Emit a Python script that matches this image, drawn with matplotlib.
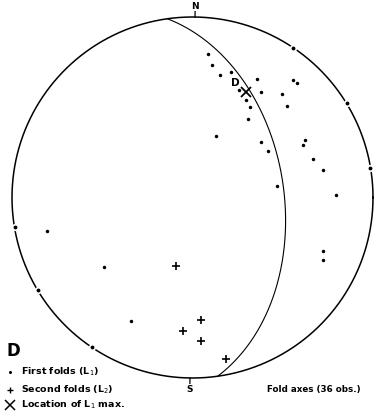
import numpy as np
import matplotlib
matplotlib.use("Agg")
import matplotlib.pyplot as plt

# ---------------- data (net coordinates, primitive radius = 1) ----------------
# First folds (L1) inside the net
l1_x = [0.084, 0.110, 0.152, 0.215, 0.359, 0.381, 0.259, 0.298, 0.317, 0.305,
        0.130, 0.377, 0.417, 0.468, 0.555, 0.577, 0.497, 0.522, 0.623, 0.613,
        0.669, 0.723, 0.793, 0.725, 0.723, -0.804, -0.489, -0.341]
l1_y = [0.795, 0.732, 0.679, 0.695, 0.655, 0.587, 0.594, 0.540, 0.501, 0.437,
        0.339, 0.305, 0.259, 0.064, 0.651, 0.636, 0.572, 0.509, 0.317, 0.289,
        0.215, 0.154, 0.014, -0.295, -0.346, -0.186, -0.387, -0.686]
# First folds that are horizontal (plotted on the primitive)
l1_edge_x = [0.558, 0.857, 0.986, -0.986, -0.857, -0.556]
l1_edge_y = [0.830, 0.522, 0.163, -0.166, -0.515, -0.831]
# Second folds (L2)
l2_x = [-0.093, 0.045, -0.051, 0.047, 0.186]
l2_y = [-0.381, -0.677, -0.738, -0.797, -0.896]
# Location of L1 maximum
max_x = [0.298]
max_y = [0.584]
# Great circle (dip direction, dip) in degrees
gc_dipdir = 82.0
gc_dip = 48.0
net_rotation = 0.8  # degrees, N mark offset

title_text = "Fold axes (36 obs.)"
legend_labels = ["First folds (L$_1$)", "Second folds (L$_2$)", "Location of L$_1$ max."]

# ---------------- figure ----------------
W, H = 385, 416
fig = plt.figure(figsize=(W / 100, H / 100), dpi=100)
ax = fig.add_axes([0, 0, 1, 1])
cx, cy, R = 192.5, 197.5, 180.5
ax.set_xlim(-cx / R, (W - cx) / R)
ax.set_ylim(-(H - cy) / R, cy / R)
ax.axis("off")

# primitive circle
t = np.linspace(0, 2 * np.pi, 721)
ax.plot(np.cos(t), np.sin(t), color="black", lw=1.1, zorder=2)

# great circle, equal-area lower hemisphere
dd = np.radians(gc_dipdir)
dip = np.radians(gc_dip)
s = np.array([np.sin(dd - np.pi / 2), np.cos(dd - np.pi / 2), 0.0])
d = np.array([np.sin(dd) * np.cos(dip), np.cos(dd) * np.cos(dip), -np.sin(dip)])
ang = np.linspace(0, np.pi, 400)
vecs = np.outer(np.cos(ang), s) + np.outer(np.sin(ang), d)
plunge = np.arcsin(np.clip(-vecs[:, 2], -1, 1))
trend = np.arctan2(vecs[:, 0], vecs[:, 1])
r = np.sqrt(2) * np.sin((np.pi / 2 - plunge) / 2)
ax.plot(r * np.sin(trend), r * np.cos(trend), color="black", lw=0.8, zorder=2)

# N / S ticks
rot = np.radians(net_rotation)
for az, lab, off in [(rot, "N", 1.058), (np.pi + rot, "S", 1.064)]:
    ux, uy = np.sin(az), np.cos(az)
    ax.plot([ux, ux * 1.03], [uy, uy * 1.03], color="black", lw=0.9)
    ax.text(ux * off, uy * off, lab, ha="center", va="center",
            fontsize=6.5, fontweight="bold", family="DejaVu Sans")

# points
ax.plot(l1_x, l1_y, "o", color="black", ms=2.5, mew=0, zorder=4)
ax.plot(l1_edge_x, l1_edge_y, "o", mfc="black", mec="white", ms=4.0, mew=1.2, zorder=4)
ax.plot(l2_x, l2_y, "+", color="black", ms=5.8, mew=1.2, zorder=4)
ax.plot(max_x, max_y, "x", color="black", ms=7, mew=1.3, zorder=5)
ax.text(max_x[0] - 0.061, max_y[0] + 0.049, "D", ha="center", va="center",
        fontsize=7.5, fontweight="bold")

# caption text
ax.text(0.413, -1.063, title_text, ha="left", va="center", fontsize=6.3, fontweight="bold")

# legend
ax.text(-1.028, -0.850, "D", ha="left", va="center", fontsize=12, fontweight="bold")
lx = -1.011
ly = [-0.968, -1.066, -1.150]
ax.plot([lx], [ly[0]], "o", color="black", ms=2.2, mew=0)
ax.plot([lx], [ly[1]], "+", color="black", ms=5, mew=1.0)
ax.plot([lx], [ly[2]], "x", color="black", ms=7, mew=1.1)
for yy, lab in zip(ly, legend_labels):
    ax.text(-0.950, yy, lab, ha="left", va="center", fontsize=6.8, fontweight="bold")

fig.savefig("out.png", dpi=100)
